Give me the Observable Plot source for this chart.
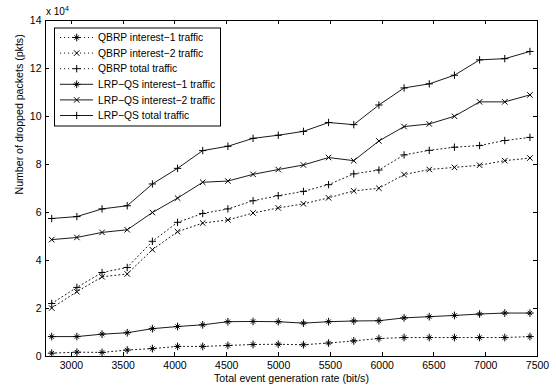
<!DOCTYPE html>
<html><head><meta charset="utf-8">
<script src="https://cdn.jsdelivr.net/npm/d3@7"></script>
<script src="https://cdn.jsdelivr.net/npm/@observablehq/plot@0.6"></script>
<style>
body{margin:0;background:#fff}
#chart{position:relative;width:556px;height:388px}
</style>
</head><body><div id="chart"></div>
<script>
// Total event generation rate (bit/s)
const rates = [2810, 3053, 3296, 3539, 3782, 4025, 4268, 4511, 4754, 4997, 5240, 5483, 5726, 5969, 6212, 6455, 6698, 6941, 7184, 7427];
// Number of dropped packets (pkts)
const qbrpInterest1 = [1400, 1800, 1700, 2700, 3300, 4200, 4200, 4600, 5000, 5100, 4900, 5600, 6500, 7500, 7900, 7900, 7900, 7900, 7900, 8300];
const qbrpInterest2 = [20200, 27000, 33200, 34400, 44500, 52000, 55600, 56900, 59800, 61900, 63600, 66100, 69000, 70100, 75800, 77900, 78800, 79700, 81600, 82700];
const qbrpTotal     = [22100, 28800, 35000, 37100, 48000, 55900, 59600, 61500, 64900, 67000, 68800, 71600, 76100, 77700, 84000, 85900, 87200, 87900, 90000, 91300];
const lrpInterest1  = [8300, 8300, 9300, 9900, 11600, 12500, 13200, 14500, 14600, 14500, 13900, 14500, 14800, 14900, 16100, 16600, 17100, 17700, 18100, 18100];
const lrpInterest2  = [48700, 49600, 51700, 52800, 60000, 66000, 72600, 73100, 75900, 77900, 79800, 82900, 81600, 89800, 95800, 96900, 100100, 106100, 106100, 109000];
const lrpTotal      = [57500, 58300, 61500, 62800, 71900, 78400, 85800, 87600, 90900, 92200, 93800, 97500, 96600, 104800, 111900, 113600, 117200, 123600, 124100, 127100];

const seriesNames = ["QBRP interest\u22121 traffic", "QBRP interest\u22122 traffic", "QBRP total traffic",
                     "LRP\u2212QS interest\u22121 traffic", "LRP\u2212QS interest\u22122 traffic", "LRP\u2212QS total traffic"];
const seriesValues = [qbrpInterest1, qbrpInterest2, qbrpTotal, lrpInterest1, lrpInterest2, lrpTotal];
const seriesMarkers = ["asterisk", "times", "plus", "asterisk", "times", "plus"];
const seriesDotted = [true, true, true, false, false, false];

const xTicks = [3000, 3500, 4000, 4500, 5000, 5500, 6000, 6500, 7000, 7500];
const yTicks = [0, 20000, 40000, 60000, 80000, 100000, 120000, 140000];

const FONT = "'Liberation Sans', Arial, sans-serif";
const DOT = "1.1,2.9";
const series = seriesNames.map((name, k) => ({
  name, marker: seriesMarkers[k], dotted: seriesDotted[k],
  data: rates.map((r, i) => ({rate: r, value: seriesValues[k][i]}))
}));

function markerMarks(s) {
  const common = {x: "rate", y: "value", stroke: "black", strokeWidth: 1, fill: "none"};
  if (s.marker === "asterisk") return [
    Plot.dot(s.data, {...common, symbol: "plus", r: 2.6}),
    Plot.dot(s.data, {...common, symbol: "times", r: 2.1})
  ];
  if (s.marker === "times") return [Plot.dot(s.data, {...common, symbol: "times", r: 2.6})];
  return [Plot.dot(s.data, {...common, symbol: "plus", r: 2.5})];
}

const marks = [];
for (const s of series) {
  marks.push(Plot.line(s.data, {x: "rate", y: "value", stroke: "black", strokeWidth: 0.9,
    strokeDasharray: s.dotted ? DOT : null}));
  marks.push(...markerMarks(s));
}

const plot = Plot.plot({
  width: 556, height: 388,
  marginLeft: 45, marginRight: 19, marginTop: 20, marginBottom: 32,
  style: {fontFamily: FONT, fontSize: "10.5px", background: "#fff", color: "black"},
  x: {domain: [2750, 7500], axis: null},
  y: {domain: [0, 140000], axis: null},
  marks: [
    ...marks,
    Plot.frame({stroke: "black", strokeWidth: 1}),
    Plot.axisX({ticks: xTicks, tickSize: 0, tickPadding: 5, label: null, tickFormat: d => String(d), fontSize: 10.5}),
    Plot.axisY({ticks: yTicks, tickSize: 0, tickPadding: 4, label: null, tickFormat: d => String(d / 1e4), fontSize: 10.5}),
    Plot.text(["Total event generation rate (bit/s)"], {frameAnchor: "bottom", dy: 22, lineAnchor: "middle", text: d => d, fontSize: 10.6}),
    Plot.text(["Number of dropped packets (pkts)"], {frameAnchor: "left", dx: -26, dy: 6, rotate: -90, lineAnchor: "middle", text: d => d, fontSize: 10.6})
  ]
});
document.getElementById("chart").appendChild(plot);

// inward ticks on all four sides, positioned via Plot's scales
const sx = plot.scale("x"), sy = plot.scale("y");
const svg = d3.select(plot);
const x0 = sx.apply(sx.domain[0]), x1 = sx.apply(sx.domain[1]);
const y0 = sy.apply(sy.domain[0]), y1 = sy.apply(sy.domain[1]);
const tl = 4;
const g = svg.append("g").attr("stroke", "black").attr("stroke-width", 1);
for (const t of xTicks) {
  const px = Math.round(sx.apply(t)) + 0.5;
  g.append("line").attr("x1", px).attr("x2", px).attr("y1", y0).attr("y2", y0 - tl);
  g.append("line").attr("x1", px).attr("x2", px).attr("y1", y1).attr("y2", y1 + tl);
}
for (const t of yTicks) {
  const py = Math.round(sy.apply(t)) + 0.5;
  g.append("line").attr("x1", x0).attr("x2", x0 + tl).attr("y1", py).attr("y2", py);
  g.append("line").attr("x1", x1).attr("x2", x1 - tl).attr("y1", py).attr("y2", py);
}

// exponent label
const ex = svg.append("text").attr("x", x0 + 1).attr("y", y1 - 5).attr("text-anchor", "start")
  .attr("font-family", FONT).attr("font-size", 10).attr("fill", "black");
ex.append("tspan").text("x 10");
ex.append("tspan").attr("dy", -4).attr("font-size", 7).text("4");

// legend
const lg = svg.append("g").attr("font-family", FONT).attr("font-size", 10.3).attr("text-anchor", "start");
const lx = x0 + 9, ly = y1 + 7.5, lw = 166, lh = 98;
lg.append("rect").attr("x", lx + 0.5).attr("y", ly + 0.5).attr("width", lw).attr("height", lh)
  .attr("fill", "white").attr("stroke", "black").attr("stroke-width", 1);
series.forEach((s, i) => {
  const cy = ly + 10 + i * 15.6;
  lg.append("line").attr("x1", lx + 6).attr("x2", lx + 39).attr("y1", cy).attr("y2", cy)
    .attr("stroke", "black").attr("stroke-width", 0.9).attr("stroke-dasharray", s.dotted ? DOT : null);
  const mx = lx + 22.7;
  const sym = (type, r) => lg.append("path")
    .attr("d", d3.symbol(type === "plus" ? d3.symbolPlus : d3.symbolTimes, r * r * Math.PI)())
    .attr("transform", `translate(${mx},${cy})`).attr("fill", "none").attr("stroke", "black").attr("stroke-width", 1);
  if (s.marker === "asterisk") { sym("plus", 2.6); sym("times", 2.1); }
  else if (s.marker === "times") sym("times", 2.6);
  else sym("plus", 2.5);
  lg.append("text").attr("x", lx + 44).attr("y", cy).attr("dy", "0.35em").attr("text-anchor", "start")
    .attr("fill", "black").text(s.name);
});
</script>
</body></html>
